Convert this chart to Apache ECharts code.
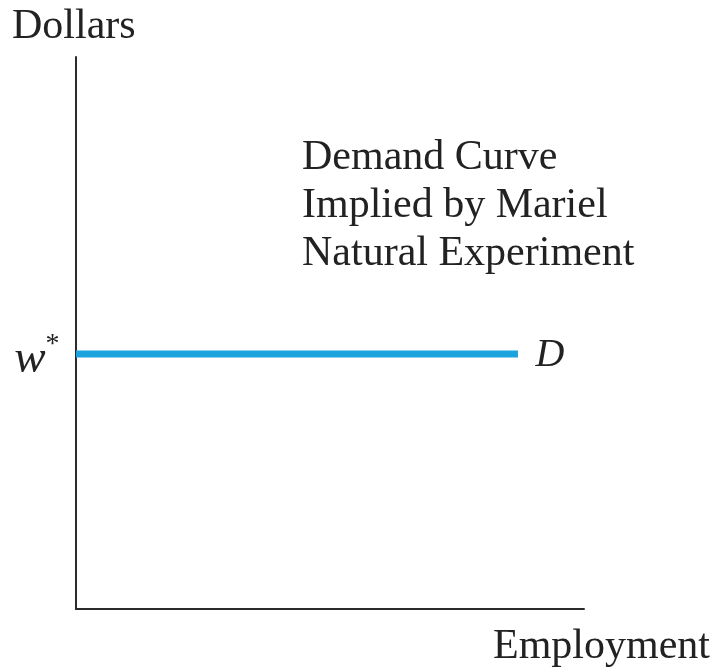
<!DOCTYPE html>
<html>
<head>
<meta charset="utf-8">
<script src="https://cdn.jsdelivr.net/npm/echarts@6/dist/echarts.min.js"></script>
<style>html,body{margin:0;padding:0;background:#fff;}#chart{width:719px;height:667px;}</style>
</head>
<body>
<div id="chart"></div>
<script>
const demandX = [0, 87];
const demandY = [46.2, 46.2];
const yAxisTitle = 'Dollars';
const xAxisTitle = 'Employment';
const noteLines = ['Demand Curve', 'Implied by Mariel', 'Natural Experiment'];
const startLabel = 'w';
const endLabel = 'D';

const serif = '"Liberation Serif", "DejaVu Serif", serif';
const chart = echarts.init(document.getElementById('chart'));
chart.setOption({
  backgroundColor: '#fff',
  animation: false,
  grid: { left: 76, right: 135, top: 57, bottom: 58 },
  xAxis: {
    type: 'value', min: 0, max: 100,
    axisLine: { show: true, lineStyle: { color: '#2b2b2b', width: 2 } },
    axisTick: { show: false }, axisLabel: { show: false }, splitLine: { show: false }
  },
  yAxis: {
    type: 'value', min: 0, max: 100,
    axisLine: { show: true, lineStyle: { color: '#2b2b2b', width: 2 } },
    axisTick: { show: false }, axisLabel: { show: false }, splitLine: { show: false }
  },
  series: [{
    type: 'line',
    data: demandX.map((x, i) => ({
      value: [x, demandY[i]],
      label: { position: i === 0 ? 'left' : 'right', distance: i === 0 ? 16 : 17 }
    })),
    symbol: 'circle',
    symbolSize: 1,
    showSymbol: true,
    itemStyle: { color: 'rgba(0,0,0,0)' },
    lineStyle: { color: '#1aa3dd', width: 7, cap: 'butt' },
    label: {
      show: true,
      formatter: p => p.dataIndex === 0 ? '{w|' + startLabel + '}{s|*}' : '{d|' + endLabel + '}',
      rich: {
        w: { fontFamily: serif, fontStyle: 'italic', fontSize: 47, color: '#222', padding: [12, 0, 0, 0] },
        s: { fontFamily: serif, fontSize: 28, color: '#222', verticalAlign: 'top', padding: [6, 0, 0, 0] },
        d: { fontFamily: serif, fontStyle: 'italic', fontSize: 40, color: '#222', padding: [4, 0, 0, 0] }
      }
    }
  }],
  graphic: [
    { type: 'text', left: 12, top: 6, style: { text: yAxisTitle, font: '42px ' + serif, fill: '#222' } },
    { type: 'text', left: 493, top: 626, style: { text: xAxisTitle, font: '42px ' + serif, fill: '#222' } },
    { type: 'text', left: 302, top: 134, style: { text: noteLines.join('\n'), font: '42px ' + serif, lineHeight: 48, fill: '#222' } }
  ]
});
</script>
</body>
</html>
